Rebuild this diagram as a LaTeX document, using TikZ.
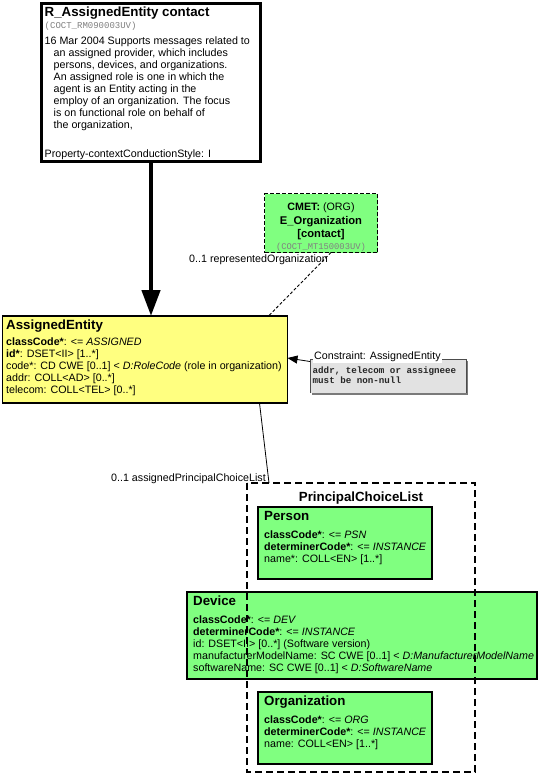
\documentclass[tikz,border=0pt]{standalone}
\usepackage{fontspec}
\setmainfont{Liberation Sans}
\newfontfamily\monof{Liberation Mono}
\usetikzlibrary{arrows.meta}
\definecolor{hlgreen}{HTML}{80FF80}
\definecolor{hlyellow}{HTML}{FFFF80}
\definecolor{consgray}{HTML}{E2E2E2}
\definecolor{shadowgray}{HTML}{7A7A7A}
\definecolor{codegray}{HTML}{808080}
\begin{document}
\begin{tikzpicture}[x=1pt,y=-1pt,
  box/.style={draw=black, line width=1.3pt, inner sep=0pt, outer sep=0pt, anchor=north west},
  txt/.style={anchor=base west, inner sep=0pt, font=\fontsize{10.7}{12}\selectfont},
  ttl/.style={anchor=base west, inner sep=0pt, font=\fontsize{13.3}{15}\selectfont\bfseries},
  mono/.style={anchor=base west, inner sep=0pt, font=\fontsize{9}{10}\selectfont\monof, text=codegray},
  cmono/.style={anchor=base west, inner sep=0pt, font=\fontsize{9.2}{10}\selectfont\monof\bfseries, text=black!85}
]
\useasboundingbox (0,0) rectangle (539,776);
\fill[white] (0,0) rectangle (539,776);

% top box
\node[box, line width=3pt, minimum width=219, minimum height=158] (top) at (41.5,3.5) {};
\node[ttl] (t1) at (44.5,17) {R\_AssignedEntity contact};
\node[mono] (t2) at (44.5,29) {(COCT\_RM090003UV)};
\node[txt] (t3) at (44.5,44.5) {16 Mar 2004 Supports messages related to};
\node[txt] (t4) at (53.5,56.5) {an assigned provider, which includes};
\node[txt] (t5) at (53.5,68.5) {persons, devices, and organizations.};
\node[txt] (t6) at (53.5,80.5) {An assigned role is one in which the};
\node[txt] (t7) at (53.5,92.5) {agent is an Entity acting in the};
\node[txt] (t8) at (53.5,104.5) {employ of an organization. The focus};
\node[txt] (t9) at (53.5,116.5) {is on functional role on behalf of};
\node[txt] (t10) at (53.5,128.5) {the organization,};
\node[txt] (t11) at (44.5,157.5) {Property-contextConductionStyle: I};

% CMET box
\node[box, fill=hlgreen, dash pattern=on 4pt off 2pt, line width=1.8pt, minimum width=113, minimum height=59] (cmet) at (264.5,193.5) {};
\node[anchor=base, inner sep=0pt, font=\fontsize{10.7}{12}\selectfont] (c1) at (321,210) {\textbf{CMET:} (ORG)};
\node[anchor=base, inner sep=0pt, font=\fontsize{11.2}{12}\selectfont\bfseries] (c2) at (321,224) {E\_Organization};
\node[anchor=base, inner sep=0pt, font=\fontsize{11.2}{12}\selectfont\bfseries] (c3) at (321,237.5) {[contact]};
\node[anchor=base, inner sep=0pt, font=\fontsize{8.8}{10}\selectfont\monof, text=codegray] (c4) at (321,249) {(COCT\_MT150003UV)};

% AssignedEntity
\node[box, fill=hlyellow, minimum width=285, minimum height=87] (ae) at (2.5,316) {};
\node[ttl] (a0) at (6,329.5) {AssignedEntity};
\node[txt] (a1) at (6,345.5) {\textbf{classCode*}: <= \textit{ASSIGNED}};
\node[txt] (a2) at (6,357.5) {\textbf{id*}: DSET<II> [1..*]};
\node[txt] (a3) at (6,369.5) {code*: CD CWE [0..1] < \textit{D:RoleCode} (role in organization)};
\node[txt] (a4) at (6,381.5) {addr: COLL<AD> [0..*]};
\node[txt] (a5) at (6,393.5) {telecom: COLL<TEL> [0..*]};

% thick arrow
\draw[line width=4.5pt, -{Triangle[width=18pt,length=26pt]}] (top.south) -- (top.south |- ae.north);

% CMET connector
\draw[line width=0.9pt, dash pattern=on 3pt off 2pt] ([xshift=10]cmet.south) -- ([xshift=-19]ae.north east);
\node[anchor=base east, inner sep=0pt, font=\fontsize{10.7}{12}\selectfont] (l1) at (328,262) {0..1 representedOrganization};

% Constraint
\fill[shadowgray] (312,361) rectangle (468,395);
\node[box, fill=consgray, draw=none, minimum width=156, minimum height=34] (cons) at (310,359) {};
\draw[line width=0.8pt, black!70] (cons.south west) -- (cons.north west) -- (cons.north east) -- (cons.south east);
\node[anchor=base west, inner sep=1pt, fill=white, font=\fontsize{10.7}{12}\selectfont] (ct) at (313,359.5) {Constraint: AssignedEntity};
\node[cmono] (cm1) at (312.5,373.5) {addr, telecom or assigneee};
\node[cmono] (cm2) at (312.5,383) {must be non-null};
\draw[line width=0.8pt, -{Triangle[width=8pt,length=10pt]}] ([yshift=-2.5]cons.north west) -- (ae.east |- 0,358);

% PrincipalChoiceList
\node[box, draw=none, minimum width=228, minimum height=289] (pcl) at (247,483) {};
\node[anchor=base, inner sep=0pt, font=\fontsize{13.3}{15}\selectfont\bfseries] (p0) at (361,501.5) {PrincipalChoiceList};

% Person
\node[box, fill=hlgreen, minimum width=174, minimum height=72] (per) at (258,507) {};
\node[ttl] (pe0) at (264,520) {Person};
\node[txt] (pe1) at (264,538.5) {\textbf{classCode*}: <= \textit{PSN}};
\node[txt] (pe2) at (264,550.5) {\textbf{determinerCode*}: <= \textit{INSTANCE}};
\node[txt] (pe3) at (264,562.5) {name*: COLL<EN> [1..*]};

% Device
\node[box, fill=hlgreen, minimum width=350, minimum height=87] (dev) at (187,592) {};
\node[ttl] (d0) at (193,605) {Device};
\node[txt] (d1) at (193,623.5) {\textbf{classCode*}: <= \textit{DEV}};
\node[txt] (d2) at (193,635.5) {\textbf{determinerCode*}: <= \textit{INSTANCE}};
\node[txt] (d3) at (193,647.5) {id: DSET<II> [0..*] (Software version)};
\node[txt] (d4) at (193,659.5) {manufacturerModelName: SC CWE [0..1] < \textit{D:ManufacturerModelName}};
\node[txt] (d5) at (193,671.5) {softwareName: SC CWE [0..1] < \textit{D:SoftwareName}};

% Organization
\node[box, fill=hlgreen, minimum width=174, minimum height=72] (org) at (258,692) {};
\node[ttl] (o0) at (264,705) {Organization};
\node[txt] (o1) at (264,723.5) {\textbf{classCode*}: <= \textit{ORG}};
\node[txt] (o2) at (264,735.5) {\textbf{determinerCode*}: <= \textit{INSTANCE}};
\node[txt] (o3) at (264,747.5) {name: COLL<EN> [1..*]};

% dashed outline on top
\draw[line width=1.2pt, dash pattern=on 7pt off 4pt] (pcl.north west) rectangle (pcl.south east);

% connector AE -> PCL
\draw[line width=0.8pt] ([xshift=114.5]ae.south) -- ([xshift=22]pcl.north west);
\node[anchor=base east, inner sep=0pt, font=\fontsize{10.7}{12}\selectfont] (l2) at (266,481.5) {0..1 assignedPrincipalChoiceList};
\end{tikzpicture}
\end{document}
